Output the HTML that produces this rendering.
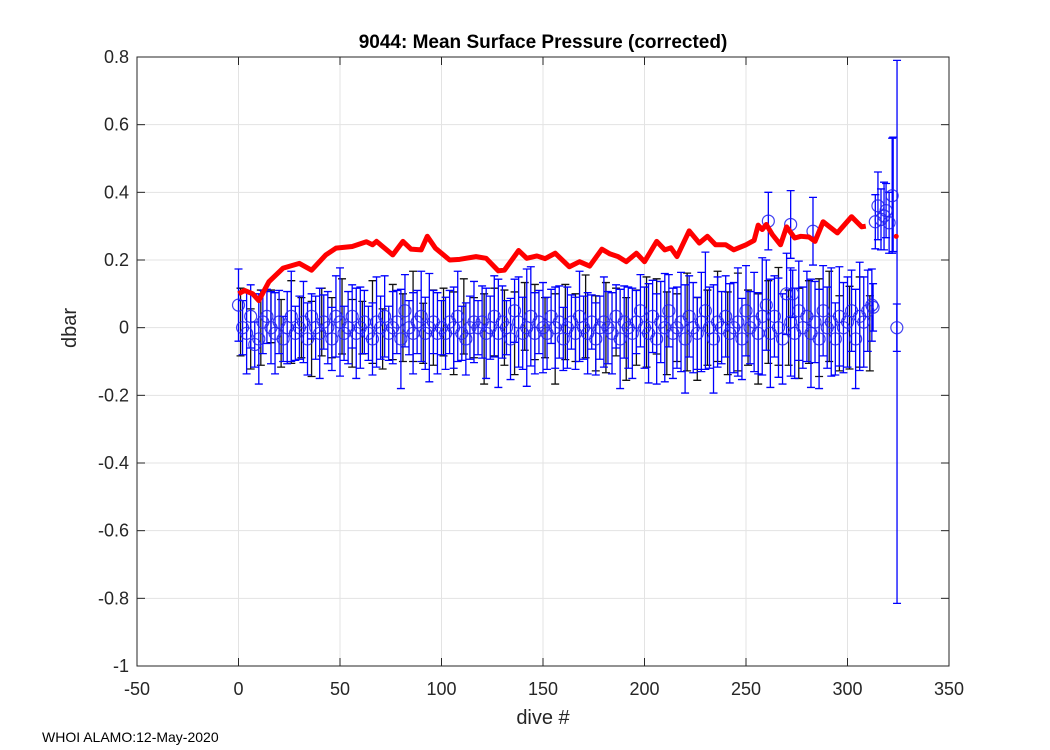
<!DOCTYPE html>
<html><head><meta charset="utf-8"><style>
body{margin:0;background:#fff;}
svg{display:block;font-family:"Liberation Sans",sans-serif;}
</style></head><body>
<svg id="chart" width="1050" height="750">
<rect x="0" y="0" width="1050" height="750" fill="#fff"/>
<g id="grid"></g>
<g id="black-bars"></g>
<g id="blue-bars"></g>
<g id="red"></g>
<g id="axes"></g>
<text x="543" y="48" text-anchor="middle" font-size="19" font-weight="bold">9044: Mean Surface Pressure (corrected)</text>
<text x="543" y="724" text-anchor="middle" font-size="20" fill="#262626">dive #</text>
<text transform="translate(76,328) rotate(-90)" text-anchor="middle" font-size="20" fill="#262626">dbar</text>
<text x="42" y="742" font-size="14">WHOI ALAMO:12-May-2020</text>
</svg>
<script>
const xTicks=[-50,0,50,100,150,200,250,300,350];
const yTicks=[-1,-0.8,-0.6,-0.4,-0.2,0,0.2,0.4,0.6,0.8];
const yTickLabels=["-1","-0.8","-0.6","-0.4","-0.2","0","0.2","0.4","0.6","0.8"];
const redDives=[0,3,7,10,15,22,30,36,43,48,56,63,66,68,76,81,85,90,93,97,104,109,117,122,128,131,138,142,147,151,156,163,168,173,179,183,187,191,196,200,206,210,213,216,222,227,231,235,240,244,250,254,256,258,260,263,267,270,274,277,281,284,288,295,302,307,309];
const redVals=[0.10,0.11,0.10,0.08,0.136,0.176,0.19,0.17,0.215,0.235,0.24,0.254,0.245,0.255,0.215,0.255,0.232,0.23,0.27,0.235,0.20,0.202,0.21,0.205,0.168,0.17,0.228,0.205,0.212,0.204,0.22,0.18,0.195,0.182,0.232,0.218,0.21,0.195,0.22,0.195,0.255,0.23,0.236,0.21,0.286,0.25,0.27,0.245,0.245,0.23,0.245,0.258,0.303,0.29,0.305,0.275,0.245,0.298,0.265,0.27,0.268,0.255,0.313,0.28,0.328,0.298,0.30];
const redEndDive=[324];
const redEndVal=[0.27];
const blueStart=0, blueStep=2;
// values in units of 1/60 dbar
const blueVals=[4,0,-1,2,-3,-2,1,2,0,-1, 1,-2,0,2,-1,0,1,-2,2,0, -1,1,0,-2,2,1,-1,0,2,-1, 0,1,-1,-2,1,0,2,-1,0,1, -2,3,0,-1,1,2,-1,0,1,-1, 0,-1,1,0,2,-1,-2,0,1,0, 1,-1,0,2,-1,1,0,-2,3,1, -1,0,2,-1,1,0,-1,2,0,1, -2,0,1,-1,2,0,-1,1,-2,0, 1,0,-1,2,-2,1,0,-1,1,3, 0,-1,2,-2,1,0,3,-1,0,1, -2,2,0,-1,1,3,0,-2,1,0, 2,-1,0,1,-2,3,0,1,-1,2, 4,-1,2,0,-2,6,1,-1,3,0, 2,-1,1,-2,3,0,1,-2,2,0, 1,3,-2,2,1,3,4];
// errors in units of 1/75 dbar
const blueErrs=[8,6,9,7,5,10,7,6,8,9, 7,5,8,10,6,7,9,8,5,7, 10,6,8,7,9,12,6,8,7,10, 9,7,6,8,10,7,9,6,8,7, 11,8,6,9,7,10,8,12,7,9, 6,8,7,9,10,6,8,7,9,6, 8,10,7,9,12,8,6,9,7,10, 8,13,11,9,7,10,8,6,9,8, 7,9,6,8,10,7,9,6,8,7, 10,8,9,7,11,8,9,10,7,8, 9,11,8,10,9,12,8,10,9,11, 12,9,10,8,11,13,9,12,10,8, 9,11,10,12,9,10,8,11,9,13, 10,12,9,11,10,9,12,10,11,9, 10,12,9,11,10,9,12,8,11,10, 10,9,11,12,10,9,8];
const blackStart=1, blackStep=5;
const blackVals=[1,-2,0,2,-1,1,0,-2,1,0, 2,-1,0,1,-2,1,0,2,-1,0, 1,-1,2,0,-2,1,0,-1,2,1, 0,-2,1,0,2,-1,0,1,-2,0, 1,2,-1,0,1,-2,0,2,-1,1, 0,-2,1,2,0,-1,1,0,2,-1, 0,1,-1];
const blackErrs=[9,8,10,7,9,11,8,10,9,8, 10,9,7,11,8,10,9,12,8,10, 9,11,10,8,12,9,10,11,9,10, 8,12,10,9,11,10,12,9,11,10, 12,10,11,9,13,11,10,12,11,13, 10,12,11,13,10,12,11,13,12,10, 11,12,10];
const specDives=[261,272,273,283,312.6,313.7,315,316.5,318,319,320.5,322,324.3];
const specVals=[0.315,0.305,0.10,0.285,0.06,0.313,0.36,0.32,0.33,0.346,0.31,0.39,0.0];
const specErrs=[0.085,0.1,0.07,0.1,0.07,0.08,0.1,0.09,0.1,0.08,0.09,0.17,0.07];
const bigDives=[324.4,322.5];
const bigLo=[-0.815,0.225];
const bigHi=[0.79,0.563];

const L=137,R=949,T=57,B=666;
const X=v=>L+(v+50)/400*(R-L);
const Y=v=>T+(0.8-v)/1.8*(B-T);
const NS="http://www.w3.org/2000/svg";
function mk(tag,parent,attrs){const e=document.createElementNS(NS,tag);for(const k in attrs)e.setAttribute(k,attrs[k]);parent.appendChild(e);return e;}
const grid=document.getElementById('grid'),axes=document.getElementById('axes');
xTicks.forEach((t,i)=>{
  const g=mk('line',grid,{x1:X(t),x2:X(t),y1:T,y2:B,stroke:'#e3e3e3','stroke-width':1});
  
  
  const tk=mk('line',axes,{x1:X(t),x2:X(t),y1:B,y2:B-8,stroke:'#262626'});
  
  
  const tk2=mk('line',axes,{x1:X(t),x2:X(t),y1:T,y2:T+8,stroke:'#262626'});
  
  
  const lb=mk('text',axes,{x:X(t),y:B+29,'text-anchor':'middle','font-size':18,fill:'#262626'});
  lb.textContent=String(t);
  
  
});
yTicks.forEach((t,i)=>{
  const g=mk('line',grid,{x1:L,x2:R,y1:Y(t),y2:Y(t),stroke:'#e3e3e3','stroke-width':1});
  
  
  const tk=mk('line',axes,{x1:L,x2:L+8,y1:Y(t),y2:Y(t),stroke:'#262626'});
  
  
  const tk2=mk('line',axes,{x1:R,x2:R-8,y1:Y(t),y2:Y(t),stroke:'#262626'});
  
  
  const lb=mk('text',axes,{x:L-8,y:Y(t)+6,'text-anchor':'end','font-size':18,fill:'#262626'});
  lb.textContent=yTickLabels[i];
  
  
});
const box=mk('rect',axes,{x:L,y:T,width:R-L,height:B-T,fill:'none',stroke:'#262626','stroke-width':1});



function errbar(parent,d,v,lo,hi,color,name){
  const x=X(d);
  const p=mk('path',parent,{d:`M${x},${Y(hi)}V${Y(lo)}M${x-4},${Y(hi)}h8M${x-4},${Y(lo)}h8`,stroke:color,'stroke-width':1.3,fill:'none'});
  
  
}
function circ(parent,d,v){
  const c=mk('circle',parent,{cx:X(d),cy:Y(v),r:6,fill:'none',stroke:'#2020f0','stroke-width':1.2,'stroke-opacity':0.85});
  
  
}
const bk=document.getElementById('black-bars'),bl=document.getElementById('blue-bars');
blackVals.forEach((v,i)=>{const d=blackStart+i*blackStep,val=v/60,e=blackErrs[i]/90;errbar(bk,d,val,val-e,val+e,'#111','black-errorbar');});
blueVals.forEach((v,i)=>{const d=blueStart+i*blueStep,val=v/60,e=blueErrs[i]/75;errbar(bl,d,val,val-e,val+e,'#0000ff','blue-errorbar');});
specDives.forEach((d,i)=>errbar(bl,d,specVals[i],specVals[i]-specErrs[i],specVals[i]+specErrs[i],'#0000ff','blue-errorbar'));
bigDives.forEach((d,i)=>errbar(bl,d,0,bigLo[i],bigHi[i],'#0000ff','large-errorbar'));
blueVals.forEach((v,i)=>circ(bl,blueStart+i*blueStep,v/60));
specDives.forEach((d,i)=>circ(bl,d,specVals[i]));
const red=document.getElementById('red');
const pl=mk('polyline',red,{points:redDives.map((d,i)=>X(d)+','+Y(redVals[i])).join(' '),fill:'none',stroke:'#ff0000','stroke-width':5,'stroke-linejoin':'round'});


redEndDive.forEach((d,i)=>{
  const c=mk('circle',red,{cx:X(d),cy:Y(redEndVal[i]),r:2.5,fill:'#ff0000'});
  
  
});
</script>
</body></html>
